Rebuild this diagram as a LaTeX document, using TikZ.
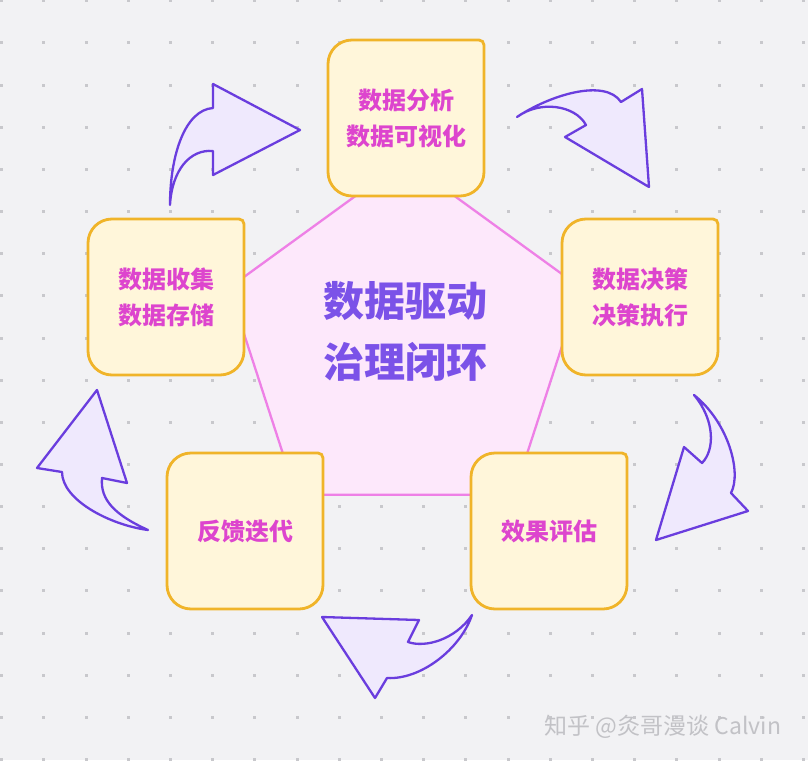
\documentclass[tikz,border=0pt]{standalone}
\usepackage{fontspec}
\setmainfont{Noto Sans CJK SC}
\usepackage{tikz}
\usetikzlibrary{shapes.geometric}

\definecolor{paper}{HTML}{F2F2F4}
\definecolor{griddot}{HTML}{C8C8CC}
\definecolor{cardfill}{HTML}{FFF6DA}
\definecolor{cardedge}{HTML}{F0B429}
\definecolor{cardink}{HTML}{DD45CE}
\definecolor{corefill}{HTML}{FDE8FB}
\definecolor{coreedge}{HTML}{EE80E6}
\definecolor{coreink}{HTML}{7B52E8}
\definecolor{flowfill}{HTML}{EFE9FD}
\definecolor{flowedge}{HTML}{6A3DDE}
\definecolor{markink}{HTML}{C2C2C6}

% card outline: three big round corners, small one at top right
\newcommand\cardframe[2]{%
  \filldraw[cardline] ({#1-54},{#2-78}) -- ({#1+73},{#2-78})
    .. controls ({#1+75.8},{#2-78}) and ({#1+78},{#2-75.8}) .. ({#1+78},{#2-73})
    -- ({#1+78},{#2+54})
    .. controls ({#1+78},{#2+67.25}) and ({#1+67.25},{#2+78}) .. ({#1+54},{#2+78})
    -- ({#1-54},{#2+78})
    .. controls ({#1-67.25},{#2+78}) and ({#1-78},{#2+67.25}) .. ({#1-78},{#2+54})
    -- ({#1-78},{#2-54})
    .. controls ({#1-78},{#2-67.25}) and ({#1-67.25},{#2-78}) .. cycle;}

\begin{document}
\begin{tikzpicture}[x=1pt, y=-1pt,
    cardline/.style={fill=cardfill, draw=cardedge, line width=2.8pt},
    cardtext/.style={text=cardink, font=\fontsize{24}{36}\selectfont\bfseries,
      align=center, minimum size=156pt, inner sep=0pt},
    flow/.style={fill=flowfill, draw=flowedge, line width=2.3pt, line join=round}]
    \useasboundingbox (0,0) rectangle (808,760);
    \fill[paper] (0,0) rectangle (808,760);
    \foreach \i in {0,...,19} {
        \foreach \j in {0,...,18} {
            \fill[griddot] ({0.2+42.2*\i},{-0.7+42.15*\j}) rectangle ++(3,3);
        }
    }

    % pentagon in the middle
    \node[regular polygon, regular polygon sides=5, minimum size=370pt, inner sep=0pt,
          fill=corefill, draw=coreedge, line width=2.3pt] (core) at (405,345) {};
    \node[text=coreink, font=\fontsize{41}{61}\selectfont\bfseries, align=center]
        (title) at (405,331) {数据驱动\\治理闭环};

    % curved arrows, clockwise
    \draw[flow] (170,205) .. controls (170,155) and (185,110) .. (213,108)
        -- (213,84) -- (300,130) -- (213,175) -- (213,151)
        .. controls (190,149) and (172,170) .. cycle;
    \draw[flow] (517,117) .. controls (550,95) and (605,78) .. (621,102)
        -- (642,89) -- (649,187) -- (565,137) -- (586,125)
        .. controls (575,105) and (540,100) .. cycle;
    \draw[flow] (694,395) .. controls (715,420) and (715,450) .. (702,463)
        -- (684,447) -- (656,540) -- (748,511) -- (731,493)
        .. controls (742,472) and (728,422) .. cycle;
    \draw[flow] (472,615) .. controls (455,640) and (425,648) .. (408,642)
        -- (419,620) -- (322,617) -- (375,698) -- (387,678)
        .. controls (420,680) and (460,650) .. cycle;
    \draw[flow] (148,530) .. controls (115,515) and (100,500) .. (102,478)
        -- (127,483) -- (97,390) -- (37,468) -- (62,472)
        .. controls (62,500) and (110,525) .. cycle;

    % the five cards
    \cardframe{406}{118}
    \node[cardtext] (analyse) at (406,118) {数据分析\\数据可视化};
    \cardframe{640}{297}
    \node[cardtext] (decide) at (640,297) {数据决策\\决策执行};
    \cardframe{549}{531}
    \node[cardtext] (assess) at (549,531) {效果评估};
    \cardframe{245}{531}
    \node[cardtext] (iterate) at (245,531) {反馈迭代};
    \cardframe{166}{297}
    \node[cardtext] (collect) at (166,297) {数据收集\\数据存储};

    \node[text=markink, font=\fontsize{23}{28}\selectfont, anchor=west]
        (mark) at (541,727) {知乎 @灸哥漫谈 Calvin};
\end{tikzpicture}
\end{document}
